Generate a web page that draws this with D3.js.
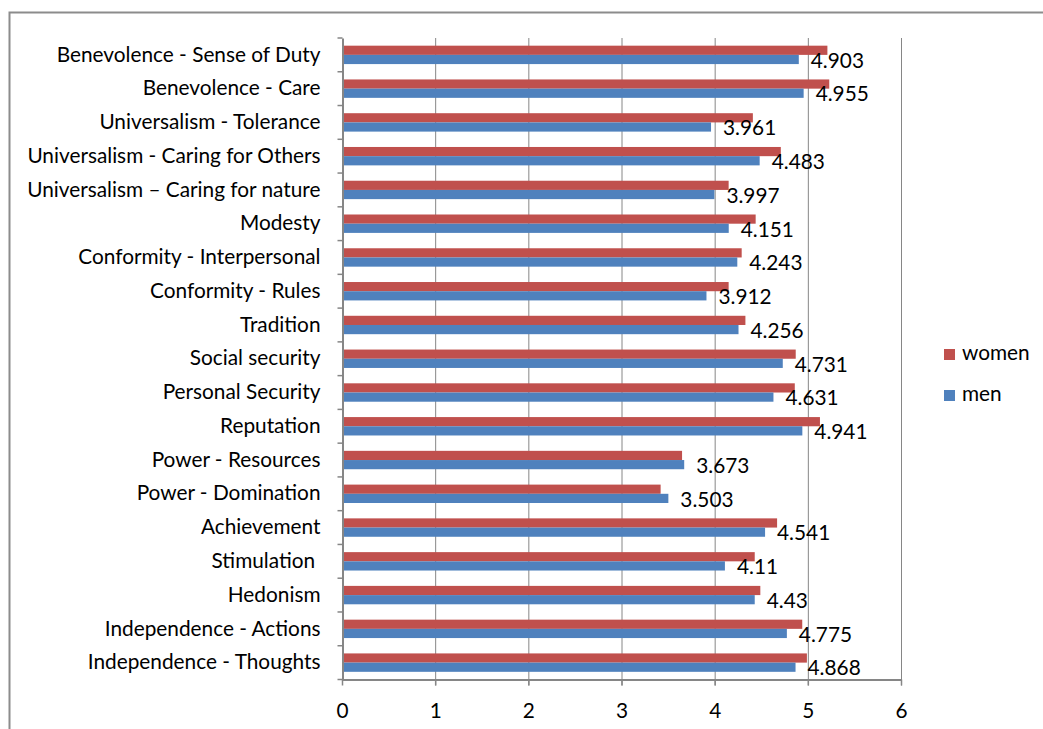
<!DOCTYPE html>
<html>
<head>
<meta charset="utf-8">
<script src="https://cdn.jsdelivr.net/npm/d3@7"></script>
<style>
  body { margin: 0; background: #fff; }
  svg text { font-family: Lato, "Open Sans", "Noto Sans", sans-serif; fill: #000; }
</style>
</head>
<body>
<svg id="chart" width="1043" height="729"></svg>
<script>
const categories = [
  'Benevolence - Sense of Duty',
  'Benevolence - Care',
  'Universalism - Tolerance',
  'Universalism - Caring for Others',
  'Universalism \u2013 Caring for nature',
  'Modesty',
  'Conformity - Interpersonal',
  'Conformity - Rules',
  'Tradition',
  'Social security',
  'Personal Security',
  'Reputation',
  'Power - Resources',
  'Power - Domination',
  'Achievement',
  'Stimulation ',
  'Hedonism',
  'Independence - Actions',
  'Independence - Thoughts',
];
const women = [5.21, 5.23, 4.41, 4.71, 4.15, 4.44, 4.29, 4.15, 4.33, 4.87, 4.86, 5.13, 3.65, 3.42, 4.67, 4.43, 4.49, 4.94, 4.99];
const men = [4.903, 4.955, 3.961, 4.483, 3.997, 4.151, 4.243, 3.912, 4.256, 4.731, 4.631, 4.941, 3.673, 3.503, 4.541, 4.11, 4.43, 4.775, 4.868];
const menLabels = ['4.903', '4.955', '3.961', '4.483', '3.997', '4.151', '4.243', '3.912', '4.256', '4.731', '4.631', '4.941', '3.673', '3.503', '4.541', '4.11', '4.43', '4.775', '4.868'];
const xTicks = [0, 1, 2, 3, 4, 5, 6];
const seriesNames = ['women', 'men'];
const colors = { women: '#c0504d', men: '#4f81bd' };

const svg = d3.select('#chart');
const gridColor = '#868686';
const fontSize = 20.8;

// outer chart frame (left + top only visible)
svg.append('path')
  .attr('d', 'M9.5,729 L9.5,12.5 L1043,12.5')
  .attr('fill', 'none')
  .attr('stroke', '#8c8c8c')
  .attr('stroke-width', 2);

const plot = { left: 342, right: 901, top: 38, bottom: 679.5 };

const x = d3.scaleLinear().domain([0, 6]).range([plot.left, plot.right]);
const y = d3.scaleBand().domain(categories).range([plot.top, plot.bottom]).paddingInner(0).paddingOuter(0);
const barH = 9.2;

// vertical gridlines
svg.append('g')
  .selectAll('line')
  .data(xTicks.slice(1))
  .join('line')
  .attr('x1', (d) => x(d) + 0.5)
  .attr('x2', (d) => x(d) + 0.5)
  .attr('y1', plot.top)
  .attr('y2', plot.bottom + 6)
  .attr('stroke', gridColor)
  .attr('stroke-width', 1);

// bars
const rows = svg.append('g')
  .selectAll('g')
  .data(categories)
  .join('g')
  .attr('transform', (d) => `translate(0,${y(d)})`);

rows.append('rect')
  .attr('x', x(0))
  .attr('y', (d) => y.bandwidth() / 2 - barH)
  .attr('width', (d, i) => x(women[i]) - x(0))
  .attr('height', barH)
  .attr('fill', colors.women);

rows.append('rect')
  .attr('x', x(0))
  .attr('y', y.bandwidth() / 2)
  .attr('width', (d, i) => x(men[i]) - x(0))
  .attr('height', barH)
  .attr('fill', colors.men);

// data labels for men
rows.append('text')
  .attr('x', (d, i) => x(men[i]) + 12)
  .attr('y', y.bandwidth() / 2 + barH / 2 + 3)
  .attr('dominant-baseline', 'middle')
  .attr('font-size', fontSize)
  .text((d, i) => menLabels[i]);

// y axis
const yAxis = svg.append('g')
  .attr('transform', `translate(${plot.left + 0.5},0)`)
  .call(
    d3.axisLeft(y)
      .tickSize(0)
      .tickPadding(22)
  );
yAxis.select('.domain').attr('stroke', gridColor).attr('stroke-width', 2);
yAxis.selectAll('text')
  .attr('font-size', fontSize)
  .style('white-space', 'pre')
  .attr('xml:space', 'preserve');
// category boundary ticks
yAxis.append('g')
  .selectAll('line')
  .data(categories.map((c) => y(c)).concat([plot.bottom]))
  .join('line')
  .attr('x1', -5)
  .attr('x2', 0)
  .attr('y1', (d) => d)
  .attr('y2', (d) => d)
  .attr('stroke', gridColor)
  .attr('stroke-width', 1.5);

// x axis
const xAxis = svg.append('g')
  .attr('transform', `translate(0,${plot.bottom})`)
  .call(
    d3.axisBottom(x)
      .tickValues(xTicks)
      .tickSize(6)
      .tickPadding(18)
      .tickFormat(d3.format('d'))
  );
xAxis.select('.domain').attr('stroke', gridColor).attr('stroke-width', 2).attr('d', `M${plot.left},0.5H${plot.right + 1}`);
xAxis.selectAll('.tick line').attr('stroke', gridColor).attr('stroke-width', 1.5);
xAxis.selectAll('text').attr('font-size', fontSize);

// legend
const legend = svg.append('g').attr('transform', 'translate(944,349)');
const items = legend.selectAll('g')
  .data(seriesNames)
  .join('g')
  .attr('transform', (d, i) => `translate(0,${i * 41})`);
items.append('rect')
  .attr('width', 11)
  .attr('height', 11)
  .attr('fill', (d) => colors[d]);
items.append('text')
  .attr('x', 18)
  .attr('y', 6)
  .attr('dominant-baseline', 'middle')
  .attr('font-size', fontSize)
  .text((d) => d);
</script>
</body>
</html>
